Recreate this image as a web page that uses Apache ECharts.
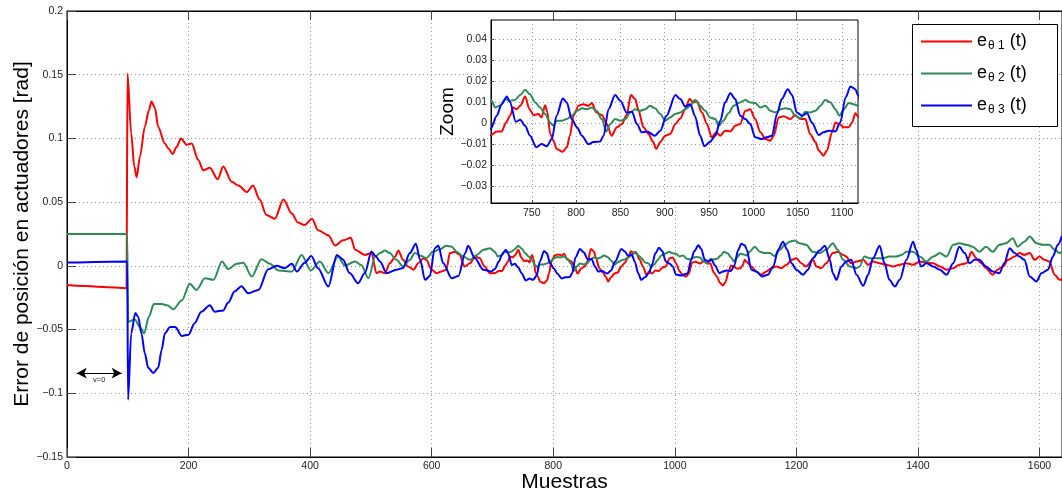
<!DOCTYPE html>
<html><head><meta charset="utf-8">
<script src="https://cdn.jsdelivr.net/npm/echarts@6/dist/echarts.min.js"></script>
<style>html,body{margin:0;padding:0;background:#fff}#c{width:1062px;height:495px}</style>
</head><body><div id="c"></div>
<script>
// [muestra, error (rad)]
const eTheta1 = [[0,-0.015],[30,-0.0158],[60,-0.0165],[98,-0.0175],[99.5,0.151],[105.6,0.104],[110.7,0.078],[114.6,0.0696],[120,0.0858],[128,0.109],[134.6,0.122],[139,0.129],[144.7,0.124],[150,0.109],[161,0.096],[167,0.092],[174,0.0877],[180,0.093],[187.5,0.100],[197,0.095],[205,0.096],[216,0.083],[224,0.075],[235,0.077],[248,0.068],[257,0.078],[271,0.066],[282,0.063],[296,0.058],[306,0.063],[317,0.052],[328,0.040],[342,0.037],[356,0.052],[370,0.041],[380,0.034],[391,0.032],[403,0.037],[413,0.028],[430,0.024],[441,0.016],[454,0.020],[467,0.022],[474,0.0126],[490,0.0086],[501,0.010],[509,-0.0057],[515,-0.0044],[523,-0.0058],[531,0.002],[540,0.0073],[545,0.012],[553,0.0047],[561,-0.0005],[570,-0.003],[578,0.002],[586,0.006],[591,0.0047],[600,-0.003],[608,-0.0058],[616,-0.0044],[624,-0.003],[630,0.01],[638,0.011],[646,0.0086],[654,-0.0005],[663,0.002],[671,0.0073],[679,0.006],[687,-0.0005],[696,-0.0058],[704,-0.0057],[710.5,-0.004],[716,-0.004],[721,0.0003],[725.5,0.0035],[729,0.0074],[733,0.0066],[737,0.0082],[742.5,0.0126],[747.4,0.0066],[752,0.0038],[757.5,0.0043],[761,0.0027],[765,0.0085],[767.7,0.005],[770.7,-0.0052],[774.5,-0.0084],[778,-0.0123],[785,-0.0136],[789.5,-0.0115],[793,-0.006],[797,0.0035],[802.7,0.0082],[808,0.009],[814,0.0082],[817.8,0.0095],[823,0.005],[829,0.0038],[834.7,-0.0005],[840,-0.006],[846,-0.002],[851.6,-0.0005],[857,0.0038],[861.8,0.0133],[866.7,0.0114],[870,0.0066],[876,-0.002],[881.7,-0.0052],[886.6,-0.0088],[890.4,-0.0123],[895,-0.009],[900.6,-0.006],[906,-0.0052],[912,-0.0005],[917.5,0.0022],[923,0.0066],[928,0.0114],[932.5,0.0098],[936,0.0106],[942,0.005],[947.6,-0.0005],[953,-0.0068],[958,-0.0044],[962.7,-0.006],[968,-0.0036],[974,-0.004],[979.6,-0.0013],[985,-0.0005],[991,0.0058],[996.5,0.0066],[1002,0.0019],[1008,-0.0044],[1013.6,-0.0076],[1019,-0.0084],[1023,-0.006],[1028.5,0.0027],[1034,0.0032],[1041.7,0.0019],[1047,0.0038],[1053,0.0019],[1058.6,0.0019],[1064,-0.0052],[1070,-0.009],[1073.7,-0.013],[1079,-0.0155],[1083,-0.013],[1088.7,-0.0044],[1092.5,0.0003],[1097,-0.0005],[1102,-0.002],[1107.6,-0.002],[1111.4,0.0003],[1115,0.0047],[1118,0.0032],[1126,-0.0005],[1134,-0.0044],[1142,-0.007],[1151,-0.0044],[1159,-0.0018],[1167,-0.0005],[1175,-0.0018],[1184,0.0008],[1192,0.0047],[1200,0.006],[1208,0.002],[1216,-0.0005],[1227,0.0047],[1233,-0.0005],[1241,-0.0018],[1249,0.002],[1260,0.01],[1268,0.011],[1277,0.0086],[1282,0.0073],[1290,0.002],[1299,0.0034],[1310,0.0047],[1318,0.0008],[1326,0.0034],[1337,0.002],[1348,0.0008],[1359,-0.0005],[1370,0.0008],[1381,0.002],[1392,0.0008],[1403,0.0034],[1414,0.0026],[1425,0.002],[1436,-0.0005],[1447,-0.003],[1458,-0.0018],[1468,0.0008],[1480,0.002],[1488,0.011],[1496,0.006],[1504,0.002],[1512,-0.0018],[1523,-0.007],[1531,-0.003],[1540,-0.0005],[1548,0.0047],[1559,0.0073],[1567,0.01],[1575,0.0086],[1584,0.01],[1592,0.0047],[1600,0.0073],[1608,0.0047],[1616,0.0034],[1625,-0.007],[1633,-0.011],[1637,-0.0105]];
const eTheta2 = [[0,0.025],[99,0.025],[100.5,-0.044],[111.5,-0.042],[120,-0.048],[127,-0.053],[134.6,-0.040],[142.8,-0.030],[156,-0.030],[165,-0.031],[175,-0.034],[189,-0.027],[202,-0.014],[213,-0.019],[227,-0.0097],[241,-0.011],[255,0.0034],[265,-0.0026],[279,0.0016],[290,0.0024],[304,-0.0084],[320,0.0052],[334,0.0016],[348,-0.0037],[370,-0.0045],[386,0.0086],[401,-0.0036],[416,0.0034],[430,-0.0057],[446,0.0073],[457,0.0003],[474,0.0034],[484,0.0006],[496,-0.0097],[507,0.0073],[515,0.01],[523,0.012],[531,0.01],[542,0.0047],[553,-0.0005],[564,0.0047],[572,0.01],[583,0.0078],[591,0.006],[602,0.011],[613,0.013],[624,0.0157],[633,0.015],[641,0.011],[652,0.0073],[663,0.0047],[674,0.0086],[685,0.0126],[696,0.0139],[704,0.011],[708.6,0.0074],[714,0.0082],[720,0.0114],[725.5,0.0106],[731,0.011],[737,0.0133],[742.5,0.0158],[748,0.0137],[754,0.0098],[759.4,0.0074],[765,0.0043],[770.7,0.0003],[774.5,-0.0013],[778,0.0011],[784,0.0011],[789.5,0.0019],[795,0.0035],[801,0.0058],[806.5,0.007],[812,0.0066],[817.8,0.0074],[823,0.0058],[829,0.0019],[834,-0.004],[838.5,-0.0005],[844,0.0019],[850,0.0011],[855.5,0.0019],[861,0.005],[866.7,0.0066],[872,0.0058],[878,0.0066],[883.4,0.0082],[889,0.007],[895,0.0043],[900.6,0.0011],[906,0.0027],[912,0.0043],[917.5,0.005],[923,0.0066],[929,0.0082],[934,0.011],[940,0.0082],[945.6,0.0058],[951,0.0027],[957,0.0019],[961,-0.0013],[966,0.0011],[972,0.0047],[977.7,0.0082],[983,0.0095],[991,0.011],[996.5,0.0098],[1002,0.0095],[1008,0.0074],[1013.6,0.0082],[1019,0.0058],[1025,0.005],[1030.6,0.0066],[1036,0.007],[1041.7,0.0066],[1047,0.0035],[1053,0.0022],[1058.6,0.0054],[1064,0.005],[1070,0.0058],[1075.6,0.0082],[1081,0.011],[1087,0.0098],[1092.5,0.0066],[1097,0.0035],[1102,0.0066],[1107.6,0.0095],[1113,0.009],[1118,0.0082],[1123,0.011],[1131.5,0.015],[1140,0.011],[1148,0.01],[1156,0.01],[1164,0.0078],[1173,0.0126],[1181,0.0165],[1189,0.019],[1197,0.0199],[1205,0.0178],[1216,0.0165],[1227,0.011],[1238,0.01],[1249,0.0126],[1260,0.0178],[1268,0.0126],[1277,0.0047],[1288,-0.0005],[1299,-0.0018],[1304,-0.0005],[1312,0.0073],[1321,0.006],[1331,0.006],[1342,0.006],[1353,0.0073],[1364,0.0073],[1373,0.0086],[1381,0.011],[1392,0.011],[1403,0.0073],[1414,0.0034],[1425,0.0073],[1436,0.01],[1447,0.0073],[1458,0.0165],[1468,0.0178],[1480,0.0165],[1490,0.015],[1501,0.011],[1512,0.015],[1523,0.011],[1534,0.0165],[1545,0.0178],[1556,0.0217],[1564,0.015],[1575,0.019],[1584,0.023],[1595,0.0178],[1605,0.0165],[1616,0.0165],[1625,0.0126],[1633,0.01],[1637,0.011]];
const eTheta3 = [[0,0.0026],[99,0.0035],[100.5,-0.105],[105.6,-0.053],[112.4,-0.037],[117,-0.040],[122.5,-0.053],[128,-0.0685],[133.6,-0.080],[142,-0.084],[150,-0.080],[155.7,-0.066],[161,-0.053],[169.5,-0.048],[178,-0.048],[189,-0.055],[200,-0.054],[210,-0.045],[221,-0.036],[235,-0.031],[243,-0.036],[257,-0.035],[265,-0.029],[276,-0.020],[287,-0.016],[298,-0.0215],[315,-0.019],[331,-0.0026],[345,0],[358,-0.0018],[370,0.0016],[378,-0.0045],[391,0.0024],[402,0.0078],[413,-0.0018],[430,-0.0162],[444,0.0086],[454,0.005],[465,-0.0057],[479,-0.0136],[490,-0.0057],[501,0.0112],[507,0.008],[515,0.0034],[526,-0.0058],[542,-0.003],[553,-0.0017],[564,0.01],[574,0.0173],[581,0.0047],[589,-0.011],[597,-0.008],[605,0.0139],[611,0.0157],[619,0.002],[633,-0.0097],[644,-0.008],[655,0.0099],[660,0.0157],[671,0.006],[685,-0.003],[698,-0.0044],[704,-0.0025],[710.5,0.0035],[716,0.009],[722,0.0126],[725.5,0.0098],[732,0.0006],[737,0.0016],[742.5,-0.0013],[748,-0.006],[755,-0.0115],[761,-0.010],[767,-0.011],[772.6,-0.0076],[778,0.0035],[785,0.0117],[789.5,0.0098],[795,0.0019],[801,-0.002],[806.5,-0.006],[814,-0.010],[819.6,-0.009],[827,-0.0088],[831,-0.006],[836.6,0.0066],[844,0.0133],[850,0.0106],[857,0.005],[863,0.0054],[868.6,-0.0005],[874,-0.0044],[880,-0.004],[889,-0.006],[895,-0.0036],[902,0.0035],[912,0.0133],[917.5,0.0114],[923,0.0079],[929,0.009],[934,0.0035],[940,-0.006],[944.6,-0.011],[951,-0.009],[957,-0.006],[962.7,0.0011],[968,0.0098],[974,0.0142],[979.6,0.0114],[985,0.0035],[991,0.0019],[996.5,-0.0005],[1002,-0.0068],[1009.7,-0.0076],[1015,-0.0068],[1021,-0.006],[1026.6,0.0043],[1032,0.0114],[1038.7,0.0161],[1043.6,0.0133],[1049,0.005],[1055,0.0035],[1060.5,0.0047],[1066,0.0003],[1073.7,-0.0057],[1079,-0.0044],[1085,-0.0036],[1092.5,-0.004],[1098,0.0003],[1104,0.0122],[1109.5,0.0174],[1115,0.0161],[1118,0.0133],[1126,-0.003],[1134,-0.0044],[1144,-0.0084],[1153,-0.007],[1162,-0.0005],[1170,0.0126],[1178,0.019],[1185,0.0126],[1192,0.002],[1200,-0.003],[1211,-0.007],[1219,-0.003],[1227,0.006],[1238,0.012],[1247,0.0157],[1255,0.0047],[1260,-0.0058],[1266,-0.011],[1274,-0.0005],[1282,0.0034],[1290,0.0047],[1299,-0.007],[1310,-0.0157],[1318,-0.007],[1326,0.006],[1337,0.0157],[1345,0.002],[1353,-0.011],[1362,-0.0162],[1370,-0.011],[1381,0.0047],[1392,0.019],[1397,0.0126],[1405,-0.0005],[1414,0.002],[1425,-0.0005],[1436,-0.003],[1447,-0.007],[1458,0.002],[1468,0.015],[1477,0.01],[1485,0.002],[1493,0.0047],[1501,0.0047],[1512,-0.0005],[1523,-0.0044],[1534,-0.0058],[1542,0.002],[1551,0.0139],[1559,0.01],[1567,0.0073],[1575,0.0047],[1584,-0.0084],[1595,-0.0123],[1603,-0.0058],[1614,-0.003],[1622,0.0073],[1630,0.0165],[1637,0.0235]];

const seriesKeys = ['1', '2', '3'];
const seriesColors = ['#ff0000', '#2e8b57', '#0000ff'];
const seriesData = [eTheta1, eTheta2, eTheta3];
const insetXTicks = [750, 800, 850, 900, 950, 1000, 1050, 1100];
const insetYTicks = [-0.03, -0.02, -0.01, 0, 0.01, 0.02, 0.03, 0.04];
const mainXRange = [0, 1637];
const insetXRange = [704, 1118];
const insetYRange = [-0.038, 0.049];

const FONT = '"Liberation Sans", Arial, Helvetica, sans-serif';
const minus = v => String(v).replace('-', '\u2212');
const plain = v => String(v);
const gridDots = { show: true, lineStyle: { color: '#9a9a9a', width: 1, type: [1, 3] } };
const blackLine = { show: true, onZero: false, lineStyle: { color: '#000', width: 1 } };

const chart = echarts.init(document.getElementById('c'), null, { renderer: 'canvas' });

const lineCommon = { type: 'line', showSymbol: false, symbol: 'none', animation: false, smooth: 0.3, smoothMonotone: 'x' };
const mainSeries = seriesData.map((d, i) => Object.assign({}, lineCommon, {
  name: seriesKeys[i], xAxisIndex: 0, yAxisIndex: 0, data: d,
  lineStyle: { color: seriesColors[i], width: 2 }, itemStyle: { color: seriesColors[i] },
  z: 3
}));
mainSeries[0].markLine = {
  silent: true, symbol: ['arrow', 'arrow'], symbolSize: [8, 10], animation: false,
  lineStyle: { color: '#000', width: 1, type: 'solid' },
  label: { show: true, position: 'insideMiddleBottom', formatter: 'v=0', fontSize: 7.5, color: '#222', fontFamily: FONT, distance: 3 },
  data: [[{ coord: [16, -0.0842] }, { coord: [90, -0.0842] }]]
};
const insetSeries = seriesData.map((d, i) => Object.assign({}, lineCommon, {
  name: seriesKeys[i], xAxisIndex: 2, yAxisIndex: 1,
  data: d.filter(p => p[0] >= insetXRange[0] - 20 && p[0] <= insetXRange[1] + 20),
  clip: true,
  lineStyle: { color: seriesColors[i], width: 2 }, itemStyle: { color: seriesColors[i] },
  z: 12
}));

const option = {
  backgroundColor: '#fff',
  animation: false,
  textStyle: { fontFamily: FONT },
  grid: [
    { left: 67, top: 11, width: 995, height: 446, show: true, borderColor: '#000', borderWidth: 1, backgroundColor: 'transparent', containLabel: false, outerBoundsMode: 'none' },
    { left: 491, top: 20, width: 367, height: 183, show: true, borderColor: '#000', borderWidth: 1, backgroundColor: '#fff', containLabel: false, outerBoundsMode: 'none', z: 10 }
  ],
  xAxis: [
    { type: 'value', gridIndex: 0, position: 'bottom', min: mainXRange[0], max: mainXRange[1], interval: 200,
      name: 'Muestras', nameLocation: 'middle', nameGap: 15, nameMoveOverlap: false,
      nameTextStyle: { fontSize: 21, color: '#000', fontFamily: FONT },
      axisLine: blackLine,
      axisTick: { show: true, inside: true, length: 9, lineStyle: { color: '#444' } },
      axisLabel: { fontSize: 10.5, color: '#222', margin: 4, showMaxLabel: false, formatter: plain, fontFamily: FONT },
      splitLine: gridDots },
    { type: 'value', gridIndex: 0, position: 'top', min: mainXRange[0], max: mainXRange[1], interval: 200,
      axisLine: blackLine,
      axisTick: { show: true, inside: true, length: 9, lineStyle: { color: '#444' } },
      axisLabel: { show: false }, splitLine: { show: false } },
    { type: 'value', gridIndex: 1, min: insetXRange[0], max: insetXRange[1], z: 11,
      axisLine: blackLine,
      axisTick: { show: true, inside: true, length: 3, customValues: insetXTicks, lineStyle: { color: '#444' } },
      axisLabel: { fontSize: 10.5, color: '#222', margin: 5, customValues: insetXTicks, formatter: plain, fontFamily: FONT },
      splitLine: gridDots }
  ],
  yAxis: [
    { type: 'value', gridIndex: 0, min: -0.15, max: 0.2, interval: 0.05,
      name: 'Error de posición en actuadores [rad]', nameLocation: 'middle', nameGap: 34, nameMoveOverlap: false,
      nameTextStyle: { fontSize: 21, color: '#000', fontFamily: FONT },
      axisLine: blackLine,
      axisTick: { show: true, inside: true, length: 9, lineStyle: { color: '#444' } },
      axisLabel: { fontSize: 10.5, color: '#222', margin: 4, formatter: minus, fontFamily: FONT },
      splitLine: gridDots },
    { type: 'value', gridIndex: 1, min: insetYRange[0], max: insetYRange[1], z: 11,
      name: 'Zoom', nameLocation: 'middle', nameGap: 34, nameMoveOverlap: false,
      nameTextStyle: { fontSize: 19, color: '#000', fontFamily: FONT },
      axisLine: blackLine,
      axisTick: { show: true, inside: true, length: 3, customValues: insetYTicks, lineStyle: { color: '#444' } },
      axisLabel: { fontSize: 10.5, color: '#222', margin: 4, customValues: insetYTicks, formatter: minus, fontFamily: FONT },
      splitLine: gridDots }
  ],
  legend: {
    orient: 'vertical', left: 921, top: 31, padding: 0, itemGap: 11,
    itemWidth: 51, itemHeight: 2, icon: 'rect', selectedMode: false,
    data: seriesKeys,
    formatter: n => '{e|e}{s|θ ' + n + '}{e| (t)}',
    textStyle: {
      color: '#000', fontFamily: FONT,
      rich: {
        e: { fontSize: 18, color: '#000', fontFamily: FONT, lineHeight: 22 },
        s: { fontSize: 12, color: '#000', fontFamily: FONT, lineHeight: 22, padding: [9, 0, 0, 1] }
      }
    },
    z: 20
  },
  graphic: [
    { type: 'rect', left: 912, top: 24, shape: { width: 145, height: 102 }, style: { fill: '#fff', stroke: '#000', lineWidth: 1 }, z: 15 }
  ],
  series: mainSeries.concat(insetSeries)
};
chart.setOption(option);
</script></body></html>
